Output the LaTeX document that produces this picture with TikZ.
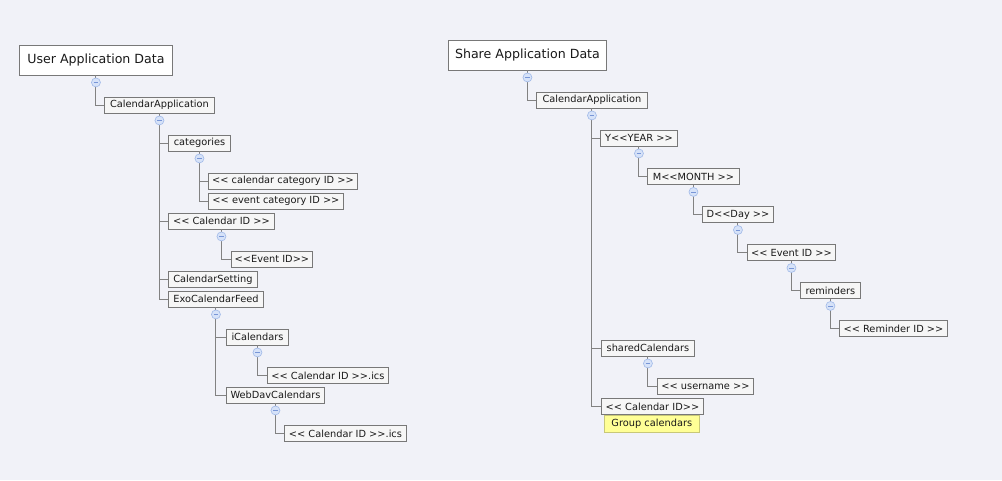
\documentclass[tikz,border=0pt]{standalone}
\usepackage{fontspec}
\newfontfamily\uifont{DejaVu Sans}
\usetikzlibrary{calc}
\definecolor{bgc}{RGB}{241,242,248}
\definecolor{boxline}{RGB}{120,120,120}
\definecolor{boxfill}{RGB}{246,246,246}
\definecolor{linkc}{RGB}{130,130,130}
\definecolor{togline}{RGB}{160,185,232}
\definecolor{togfill}{RGB}{214,226,248}
\definecolor{togminus}{RGB}{120,150,215}
\definecolor{notefill}{RGB}{255,255,150}
\definecolor{noteline}{RGB}{200,200,120}
\definecolor{txt}{RGB}{25,25,25}
\begin{document}
\begin{tikzpicture}[x=1pt,y=-1pt,
  every node/.style={font=\uifont\fontsize{9.8}{11}\selectfont, text=txt},
  item/.style={draw=boxline, fill=boxfill, line width=0.9pt, minimum height=16pt, inner sep=0pt, anchor=west},
  rootbox/.style={item, fill=white, minimum height=30pt, font=\uifont\fontsize{12.6}{15}\selectfont},
  notebox/.style={draw=noteline, fill=notefill, line width=0.6pt, minimum height=17pt, inner sep=0pt, anchor=west},
  tog/.style={circle, draw=togline, fill=togfill, minimum size=9pt, inner sep=0pt, line width=0.6pt,
    path picture={\draw[togminus, line width=0.8pt] ([xshift=-2.3pt]path picture bounding box.center) -- ([xshift=2.3pt]path picture bounding box.center);}},
  link/.style={draw=linkc, line width=1pt},
]
\fill[bgc] (0,0) rectangle (1002,480);

% ---------- left tree ----------
\node[rootbox, minimum width=153pt] (u0) at (19,60) {User Application Data};
\node[item, minimum width=110pt] (u1) at (104,105) {CalendarApplication};
\node[item, minimum width=62pt] (u2) at (168,143) {categories};
\node[item, minimum width=149pt] (u3) at (208,181) {<< calendar category ID >>};
\node[item, minimum width=135pt] (u4) at (208,201) {<< event category ID >>};
\node[item, minimum width=106pt] (u5) at (168,221) {<< Calendar ID >>};
\node[item, minimum width=81pt] (u6) at (231,259) {<<Event ID>>};
\node[item, minimum width=89pt] (u7) at (168,279.5) {CalendarSetting};
\node[item, minimum width=95pt] (u8) at (168,299) {ExoCalendarFeed};
\node[item, minimum width=62pt] (u9) at (226,337) {iCalendars};
\node[item, minimum width=121pt] (u10) at (267,375.5) {<< Calendar ID >>.ics};
\node[item, minimum width=98pt] (u11) at (226,395) {WebDavCalendars};
\node[item, minimum width=122pt] (u12) at (284,433.5) {<< Calendar ID >>.ics};

% ---------- right tree ----------
\node[rootbox, minimum width=158pt] (s0) at (448,55) {Share Application Data};
\node[item, minimum width=111pt] (s1) at (536,100) {CalendarApplication};
\node[item, minimum width=77pt] (s2) at (600,138) {Y<<YEAR >>};
\node[item, minimum width=92pt] (s3) at (647,176.5) {M<<MONTH >>};
\node[item, minimum width=71pt] (s4) at (702,214.5) {D<<Day >>};
\node[item, minimum width=88pt] (s5) at (747,252.5) {<< Event ID >>};
\node[item, minimum width=60pt] (s6) at (800,290.5) {reminders};
\node[item, minimum width=108pt] (s7) at (839,328.5) {<< Reminder ID >>};
\node[item, minimum width=93pt] (s8) at (601,348) {sharedCalendars};
\node[item, minimum width=96pt] (s9) at (657,386.5) {<< username >>};
\node[item, minimum width=102pt] (s10) at (601,406.5) {<< Calendar ID>>};
\node[notebox, minimum width=95pt] (s11) at (604,423.5) {Group calendars};

% ---------- toggle points ----------
\foreach \p in {u0,u1,u2,u5,u8,u9,u11,s0,s1,s2,s3,s4,s5,s6,s8}{
  \coordinate (t\p) at ($(\p.south)+(0,7)$);
}

% ---------- connectors ----------
\draw[link] (u0.south) -- (tu0) |- (u1.west);
\draw[link] (u1.south) -- (tu1) |- (u8.west) (tu1 |- u2.west) -- (u2.west) (tu1 |- u5.west) -- (u5.west) (tu1 |- u7.west) -- (u7.west);
\draw[link] (u2.south) -- (tu2) |- (u4.west) (tu2 |- u3.west) -- (u3.west);
\draw[link] (u5.south) -- (tu5) |- (u6.west);
\draw[link] (u8.south) -- (tu8) |- (u11.west) (tu8 |- u9.west) -- (u9.west);
\draw[link] (u9.south) -- (tu9) |- (u10.west);
\draw[link] (u11.south) -- (tu11) |- (u12.west);

\draw[link] (s0.south) -- (ts0) |- (s1.west);
\draw[link] (s1.south) -- (ts1) |- (s10.west) (ts1 |- s2.west) -- (s2.west) (ts1 |- s8.west) -- (s8.west);
\draw[link] (s2.south) -- (ts2) |- (s3.west);
\draw[link] (s3.south) -- (ts3) |- (s4.west);
\draw[link] (s4.south) -- (ts4) |- (s5.west);
\draw[link] (s5.south) -- (ts5) |- (s6.west);
\draw[link] (s6.south) -- (ts6) |- (s7.west);
\draw[link] (s8.south) -- (ts8) |- (s9.west);

% ---------- toggle circles ----------
\foreach \p in {u0,u1,u2,u5,u8,u9,u11,s0,s1,s2,s3,s4,s5,s6,s8}{
  \node[tog] (c\p) at (t\p) {};
}
\end{tikzpicture}
\end{document}
